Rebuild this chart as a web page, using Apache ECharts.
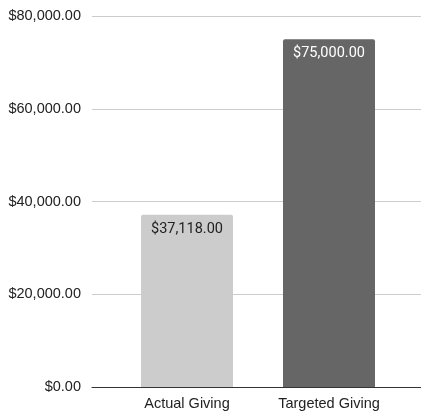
<!DOCTYPE html>
<html><head><meta charset="utf-8">
<script src="https://cdn.jsdelivr.net/npm/echarts@6/dist/echarts.min.js"></script>
<style>html,body{margin:0;padding:0;background:#fff}#c{width:421px;height:411px}</style>
</head><body><div id="c"></div>
<script>
var categories = ['Actual Giving', 'Targeted Giving'];
var values = [37118, 75000];
var barColors = ['#cccccc', '#666666'];
var labelColors = ['#222222', '#ffffff'];
var yTicks = [0, 20000, 40000, 60000, 80000];

function money(v){
  return '$' + Number(v).toLocaleString('en-US',{minimumFractionDigits:2,maximumFractionDigits:2});
}
var chart = echarts.init(document.getElementById('c'));
chart.setOption({
  animation:false,
  grid:[
    {left:92,right:0,top:16,bottom:24},
    {left:116,right:21,top:16,bottom:24}
  ],
  xAxis:[
    {gridIndex:0,type:'category',data:categories,axisLabel:{show:false},axisTick:{show:false},
     axisLine:{lineStyle:{color:'#333',width:1}}},
    {gridIndex:1,type:'category',data:categories,axisTick:{show:false},axisLine:{show:false},
     axisLabel:{color:'#222',fontSize:14.5,fontFamily:'Liberation Sans, Arial, sans-serif',margin:9}}
  ],
  yAxis:[
    {gridIndex:0,type:'value',min:yTicks[0],max:yTicks[yTicks.length-1],interval:20000,
     axisLabel:{formatter:money,color:'#222',fontSize:14.5,fontFamily:'Liberation Sans, Arial, sans-serif',margin:11},
     splitLine:{lineStyle:{color:'#cccccc'}},axisLine:{show:false},axisTick:{show:false}},
    {gridIndex:1,type:'value',min:yTicks[0],max:yTicks[yTicks.length-1],interval:20000,show:false,
     splitLine:{show:false}}
  ],
  series:[{
    type:'bar',xAxisIndex:1,yAxisIndex:1,barWidth:92,
    data:values.map(function(v,i){
      return {value:v,itemStyle:{color:barColors[i],borderRadius:[2,2,0,0]},
        label:{color:labelColors[i]}};
    }),
    label:{show:true,position:'insideTop',distance:7,fontSize:14.5,
      fontFamily:'Roboto, Liberation Sans, sans-serif',
      formatter:function(p){return money(p.value);}}
  }]
});
</script></body></html>
